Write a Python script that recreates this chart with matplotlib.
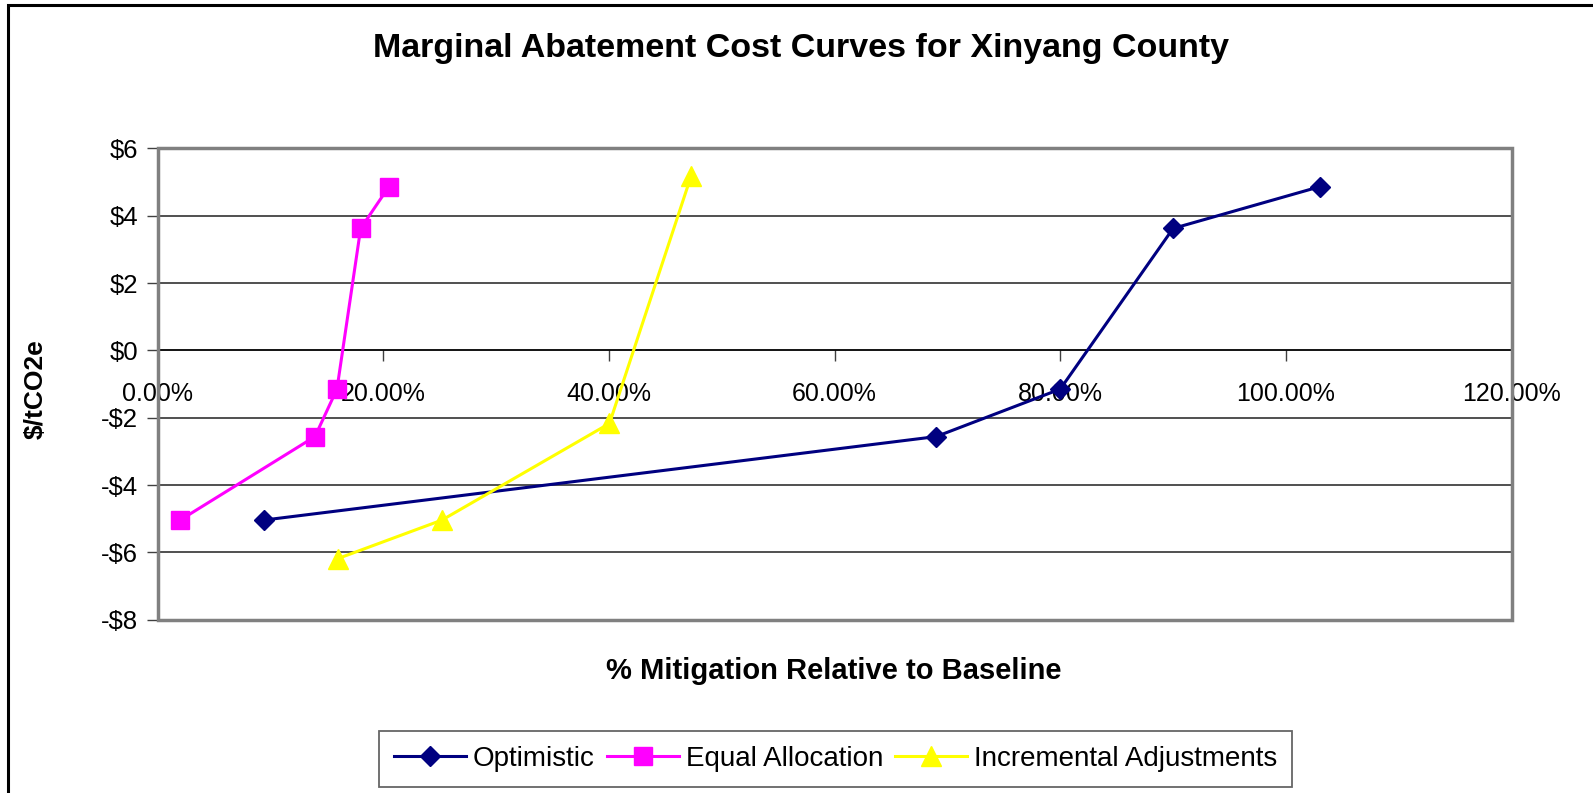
import numpy as np
import matplotlib.pyplot as plt
from matplotlib.patches import Rectangle

plt.rcParams['font.family'] = ['Liberation Sans', 'DejaVu Sans']

# mitigation (% of baseline) and cost ($/tCO2e) for each scenario
opt_x = [9.4, 69.0, 80.0, 90.0, 103.0]
opt_y = [-5.04, -2.56, -1.15, 3.62, 4.86]

eq_x = [2.0, 13.95, 15.9, 18.0, 20.5]
eq_y = [-5.04, -2.56, -1.15, 3.62, 4.86]

inc_x = [16.0, 25.2, 40.05, 47.3]
inc_y = [-6.18, -5.04, -2.17, 5.19]

x_ticks = [0, 20, 40, 60, 80, 100, 120]
y_ticks = [-8, -6, -4, -2, 0, 2, 4, 6]

fig = plt.figure(figsize=(15.93, 7.93), dpi=100)
ax = fig.add_axes([0.0989, 0.2184, 0.850, 0.5946])

# outer chart border (only top and left edges fall inside the image)
fig.patches.append(Rectangle((8 / 1593, -0.1), 1.2, 1.1 - 5 / 793,
                             transform=fig.transFigure, fill=False,
                             edgecolor='black', linewidth=2.2))

ax.set_xlim(0, 120)
ax.set_ylim(-8, 6)

for yv in y_ticks:
    if yv != 0:
        ax.axhline(yv, color='#202020', linewidth=1.1, zorder=1)

ax.plot(opt_x, opt_y, color='#000080', linewidth=2.2, marker='D',
        markersize=10, label='Optimistic', zorder=3)
ax.plot(eq_x, eq_y, color='#FF00FF', linewidth=2.2, marker='s',
        markersize=12.5, label='Equal Allocation', zorder=3)
ax.plot(inc_x, inc_y, color='#FFFF00', linewidth=2.2, marker='^',
        markersize=14.5, label='Incremental Adjustments', zorder=3)

# plot area frame
ax.add_patch(Rectangle((0, 0), 1, 1, transform=ax.transAxes, fill=False,
                       edgecolor='#808080', linewidth=2.5, zorder=4,
                       clip_on=False))

for side in ['top', 'right', 'left']:
    ax.spines[side].set_visible(False)
ax.spines['bottom'].set_position(('data', 0))
ax.spines['bottom'].set_color('black')
ax.spines['bottom'].set_linewidth(1.3)
ax.spines['bottom'].set_zorder(2)

ax.set_xticks(x_ticks)
ax.set_xticklabels([f'{v:.2f}%' for v in x_ticks])
ax.set_yticks(y_ticks)
ax.set_yticklabels([('-' if v < 0 else '') + f'${abs(v)}' for v in y_ticks])

ax.tick_params(axis='x', direction='out', length=8, width=1, pad=15,
               labelsize=18, color='#404040')
ax.tick_params(axis='y', direction='out', length=8, width=1, pad=6,
               labelsize=18.5, color='#404040')

fig.text(0.503, 1 - 48 / 793, 'Marginal Abatement Cost Curves for Xinyang County',
         ha='center', va='center', fontsize=24.5, fontweight='bold')
fig.text(36 / 1593, 1 - 389 / 793, '$/tCO2e', rotation=90,
         ha='center', va='center', fontsize=19, fontweight='bold')
fig.text(834 / 1593, 1 - 671 / 793, '% Mitigation Relative to Baseline',
         ha='center', va='center', fontsize=21, fontweight='bold')

leg = fig.legend(loc='center', bbox_to_anchor=(0.5245, 0.0429), ncol=3,
                 fontsize=20, frameon=True, fancybox=False,
                 handlelength=2.6, handletextpad=0.25, columnspacing=0.42,
                 borderpad=0.55, borderaxespad=0)
leg.get_frame().set_edgecolor('#404040')
leg.get_frame().set_linewidth(1.3)

fig.savefig('out.png', dpi=100)
